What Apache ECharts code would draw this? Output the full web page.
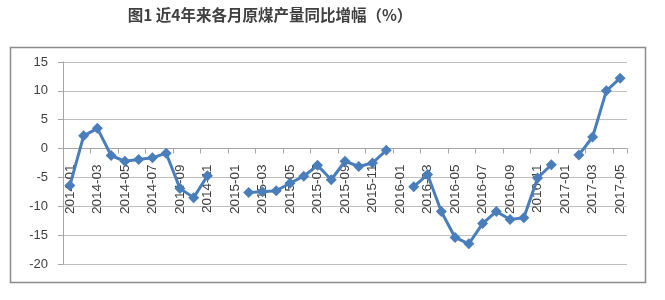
<!DOCTYPE html>
<html><head><meta charset="utf-8">
<script src="https://cdn.jsdelivr.net/npm/echarts@6/dist/echarts.min.js"></script>
<style>html,body{margin:0;padding:0;background:#fff}#c{width:665px;height:300px}</style>
</head><body><div id="c"></div>
<script>
var titleText = '图1 近4年来各月原煤产量同比增幅（%）';
var months = ['2014-01','2014-02','2014-03','2014-04','2014-05','2014-06','2014-07','2014-08','2014-09','2014-10','2014-11','2014-12',
  '2015-01','2015-02','2015-03','2015-04','2015-05','2015-06','2015-07','2015-08','2015-09','2015-10','2015-11','2015-12',
  '2016-01','2016-02','2016-03','2016-04','2016-05','2016-06','2016-07','2016-08','2016-09','2016-10','2016-11','2016-12',
  '2017-01','2017-02','2017-03','2017-04','2017-05'];
var growth = [-6.4, 2.2, 3.5, -1.2, -2.2, -1.9, -1.6, -0.8, -6.9, -8.5, -4.7, null,
  null, -7.6, -7.5, -7.3, -6.0, -4.8, -2.9, -5.4, -2.2, -3.1, -2.5, -0.3,
  null, -6.6, -4.5, -10.9, -15.4, -16.5, -13.0, -10.9, -12.3, -12.0, -5.1, -2.8,
  null, -1.1, 2.0, 10.0, 12.2];
var yTicks = {min: -20, max: 15, interval: 5};

var gridTop = 62, gridBottom = 36, H = 300;
var plotH = H - gridTop - gridBottom;
// move the category axis up to the value 0 line
var zeroOffset = -plotH * (0 - yTicks.min) / (yTicks.max - yTicks.min);

var chart = echarts.init(document.getElementById('c'));
chart.setOption({
  animation: false,
  title: {
    text: titleText, left: 265, top: 2, textAlign: 'center',
    textStyle: {fontFamily: 'Noto Sans CJK SC', fontWeight: 'bold', fontSize: 15.5, color: '#404040'}
  },
  graphic: [{
    type: 'rect', left: 8, top: 45, silent: true,
    shape: {width: 635, height: 235},
    style: {fill: 'none', stroke: '#8c8c8c', lineWidth: 1.5}
  }],
  grid: {left: 63, right: 38, top: gridTop, bottom: gridBottom},
  xAxis: {
    type: 'category', data: months, boundaryGap: true, position: 'bottom', offset: zeroOffset,
    axisLine: {onZero: false, lineStyle: {color: '#a6a6a6', width: 1}},
    axisTick: {show: true, length: 5, interval: 1, lineStyle: {color: '#a6a6a6'}},
    axisLabel: {interval: 1, rotate: 90, margin: 16, fontSize: 13.5, color: '#404040', fontFamily: 'Liberation Sans'},
    splitLine: {show: false}
  },
  yAxis: {
    type: 'value', min: yTicks.min, max: yTicks.max, interval: yTicks.interval,
    axisLine: {show: true, lineStyle: {color: '#a6a6a6', width: 1}},
    axisTick: {show: true, length: 5, lineStyle: {color: '#a6a6a6'}},
    axisLabel: {margin: 15, fontSize: 13, color: '#404040', fontFamily: 'Liberation Sans'},
    splitLine: {lineStyle: {color: '#bfbfbf', width: 1}}
  },
  series: [{
    type: 'line', data: growth, connectNulls: false,
    symbol: 'diamond', symbolSize: 11, showAllSymbol: true,
    lineStyle: {color: '#4a7ebb', width: 3},
    itemStyle: {color: '#4a7ebb'}
  }]
});
</script></body></html>
